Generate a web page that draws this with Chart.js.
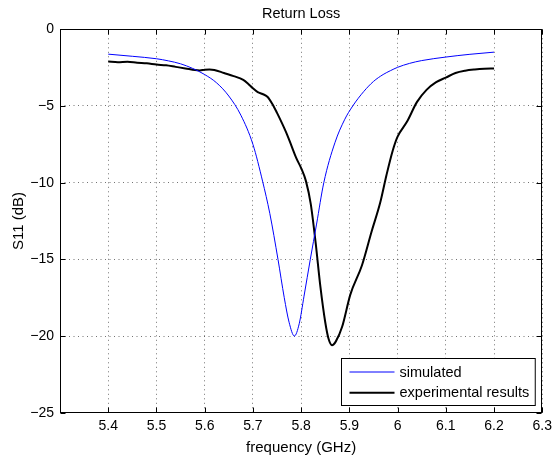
<!DOCTYPE html>
<html><head><meta charset="utf-8">
<script src="https://cdn.jsdelivr.net/npm/chart.js@4/dist/chart.umd.min.js"></script>
<style>html,body{margin:0;padding:0;background:#fff}canvas{display:block}</style>
</head><body>
<canvas id="c" width="557" height="459"></canvas>
<script>
// ---- data ----
const simFreq = [5.40,5.45,5.50,5.525,5.55,5.575,5.60,5.625,5.65,5.675,5.70,5.72,5.735,5.752,5.765,5.775,5.786,5.796,5.806,5.819,5.832,5.847,5.87,5.89,5.907,5.93,5.95,5.97,5.985,6.00,6.025,6.05,6.10,6.15,6.20];
const simS11  = [-1.62,-1.76,-1.92,-2.06,-2.25,-2.55,-2.95,-3.50,-4.35,-5.60,-7.5,-9.9,-12.0,-15.0,-17.5,-19.1,-20.0,-19.2,-17.4,-15.0,-12.7,-10.0,-7.4,-5.9,-5.0,-4.05,-3.4,-2.95,-2.70,-2.48,-2.22,-2.04,-1.81,-1.63,-1.49];
const expFreq = [5.40,5.42,5.44,5.46,5.48,5.50,5.52,5.54,5.56,5.58,5.59,5.60,5.61,5.62,5.64,5.66,5.68,5.69,5.70,5.71,5.72,5.73,5.74,5.75,5.76,5.77,5.78,5.79,5.80,5.81,5.82,5.83,5.84,5.85,5.857,5.864,5.872,5.885,5.902,5.926,5.946,5.964,5.977,5.99,6.00,6.02,6.04,6.06,6.08,6.10,6.12,6.14,6.16,6.18,6.20];
const expS11  = [-2.10,-2.15,-2.12,-2.18,-2.22,-2.30,-2.35,-2.45,-2.55,-2.66,-2.68,-2.63,-2.62,-2.65,-2.85,-3.05,-3.30,-3.55,-3.85,-4.10,-4.22,-4.40,-4.85,-5.45,-6.10,-6.80,-7.60,-8.40,-9.05,-9.90,-11.4,-13.9,-16.8,-19.1,-20.2,-20.6,-20.35,-19.4,-17.3,-15.4,-13.2,-11.3,-9.5,-7.9,-7.0,-6.0,-4.75,-3.95,-3.45,-3.15,-2.85,-2.70,-2.62,-2.57,-2.55];
const xTickValues = [5.4,5.5,5.6,5.7,5.8,5.9,6.0,6.1,6.2,6.3];
const yTickValues = [-25,-20,-15,-10,-5,0];
const seriesLabels = ['simulated','experimental results'];
const chartTitle = 'Return Loss';
const xTitle = 'frequency (GHz)';
const yTitle = 'S11 (dB)';

const FONT = "'Liberation Sans', Arial, Helvetica, sans-serif";
const toPts = (xs, ys) => xs.map((v, i) => ({x: v, y: ys[i]}));

const framePlugin = {
  id: 'frame',
  afterDatasetsDraw(chart) {
    const {ctx, chartArea: a, scales: {x, y}} = chart;
    const L = Math.round(a.left) + 0.5, R = Math.round(a.right) - 0.5;
    const T = Math.round(a.top) + 0.5, B = Math.round(a.bottom) - 0.5;
    ctx.save();
    ctx.strokeStyle = '#000';
    ctx.lineWidth = 1;
    ctx.beginPath();
    xTickValues.forEach(v => {
      const p = Math.round(x.getPixelForValue(v)) + 0.5;
      ctx.moveTo(p, B); ctx.lineTo(p, B - 5);
      ctx.moveTo(p, T); ctx.lineTo(p, T + 5);
    });
    yTickValues.forEach(v => {
      const p = Math.round(y.getPixelForValue(v)) + 0.5;
      ctx.moveTo(L, p); ctx.lineTo(L + 5, p);
      ctx.moveTo(R, p); ctx.lineTo(R - 5, p);
    });
    ctx.stroke();
    ctx.strokeRect(L, T, R - L, B - T);

    // legend
    ctx.font = '14.5px ' + FONT;
    const tw = Math.max(...chart.data.datasets.map(d => ctx.measureText(d.label).width));
    const bw = 8 + 45 + 5 + tw + 6, bh = 47;
    const bx = Math.round(a.right - 8 - bw) + 0.5, by = Math.round(a.bottom - 8 - bh) + 0.5;
    ctx.fillStyle = '#fff';
    ctx.fillRect(bx, by, bw, bh);
    ctx.strokeStyle = '#000';
    ctx.lineWidth = 1;
    ctx.strokeRect(bx, by, bw, bh);
    ctx.textBaseline = 'middle';
    ctx.textAlign = 'left';
    chart.data.datasets.forEach((d, i) => {
      const ry = by + 13.5 + i * 20.7;
      ctx.strokeStyle = d.borderColor;
      ctx.lineWidth = d.borderWidth;
      ctx.beginPath();
      ctx.moveTo(bx + 8, ry); ctx.lineTo(bx + 53, ry);
      ctx.stroke();
      ctx.fillStyle = '#000';
      ctx.fillText(d.label, bx + 58, ry + 0.5);
    });
    ctx.restore();
  }
};

const gridOpts = {
  color: 'rgba(0,0,0,0.55)',
  lineWidth: 1,
  drawTicks: false
};

new Chart(document.getElementById('c'), {
  type: 'line',
  data: {
    datasets: [
      {label: seriesLabels[0], data: toPts(simFreq, simS11), borderColor: '#0000ff', borderWidth: 1,
       pointRadius: 0, fill: false, cubicInterpolationMode: 'monotone'},
      {label: seriesLabels[1], data: toPts(expFreq, expS11), borderColor: '#000000', borderWidth: 2,
       pointRadius: 0, fill: false, cubicInterpolationMode: 'monotone'}
    ]
  },
  options: {
    responsive: false,
    animation: false,
    devicePixelRatio: 1,
    layout: {padding: {left: 0, right: 11, top: 0, bottom: 0}},
    plugins: {
      legend: {display: false},
      tooltip: {enabled: false},
      title: {display: true, fullSize: false, text: chartTitle, color: '#000',
              font: {family: FONT, size: 14.5, weight: 'normal'},
              padding: {top: 5.6, bottom: 6.3}}
    },
    scales: {
      x: {
        type: 'linear', min: 5.3, max: 6.3,
        afterBuildTicks: s => { s.ticks = xTickValues.map(v => ({value: v})); },
        afterFit: s => { s.height = 46.3; },
        grid: {...gridOpts},
        border: {display: false, dash: [1, 3.5]},
        ticks: {color: '#000', font: {family: FONT, size: 14}, padding: 5, maxRotation: 0,
                autoSkip: false, callback: v => (Math.round(v * 10) / 10).toString()},
        title: {display: true, text: xTitle, color: '#000', font: {family: FONT, size: 15},
                padding: {top: 0, bottom: 2.5}}
      },
      y: {
        type: 'linear', min: -25, max: 0,
        afterBuildTicks: s => { s.ticks = yTickValues.map(v => ({value: v})); },
        afterFit: s => { s.width = 60; },
        grid: {...gridOpts},
        border: {display: false, dash: [1, 3.5]},
        ticks: {color: '#000', font: {family: FONT, size: 14}, padding: 6,
                callback: v => v < 0 ? '\u2212' + Math.abs(v) : String(v)},
        title: {display: true, text: yTitle, color: '#000', font: {family: FONT, size: 15},
                padding: {top: 10, bottom: 0}}
      }
    }
  },
  plugins: [framePlugin]
});
</script>
</body></html>
